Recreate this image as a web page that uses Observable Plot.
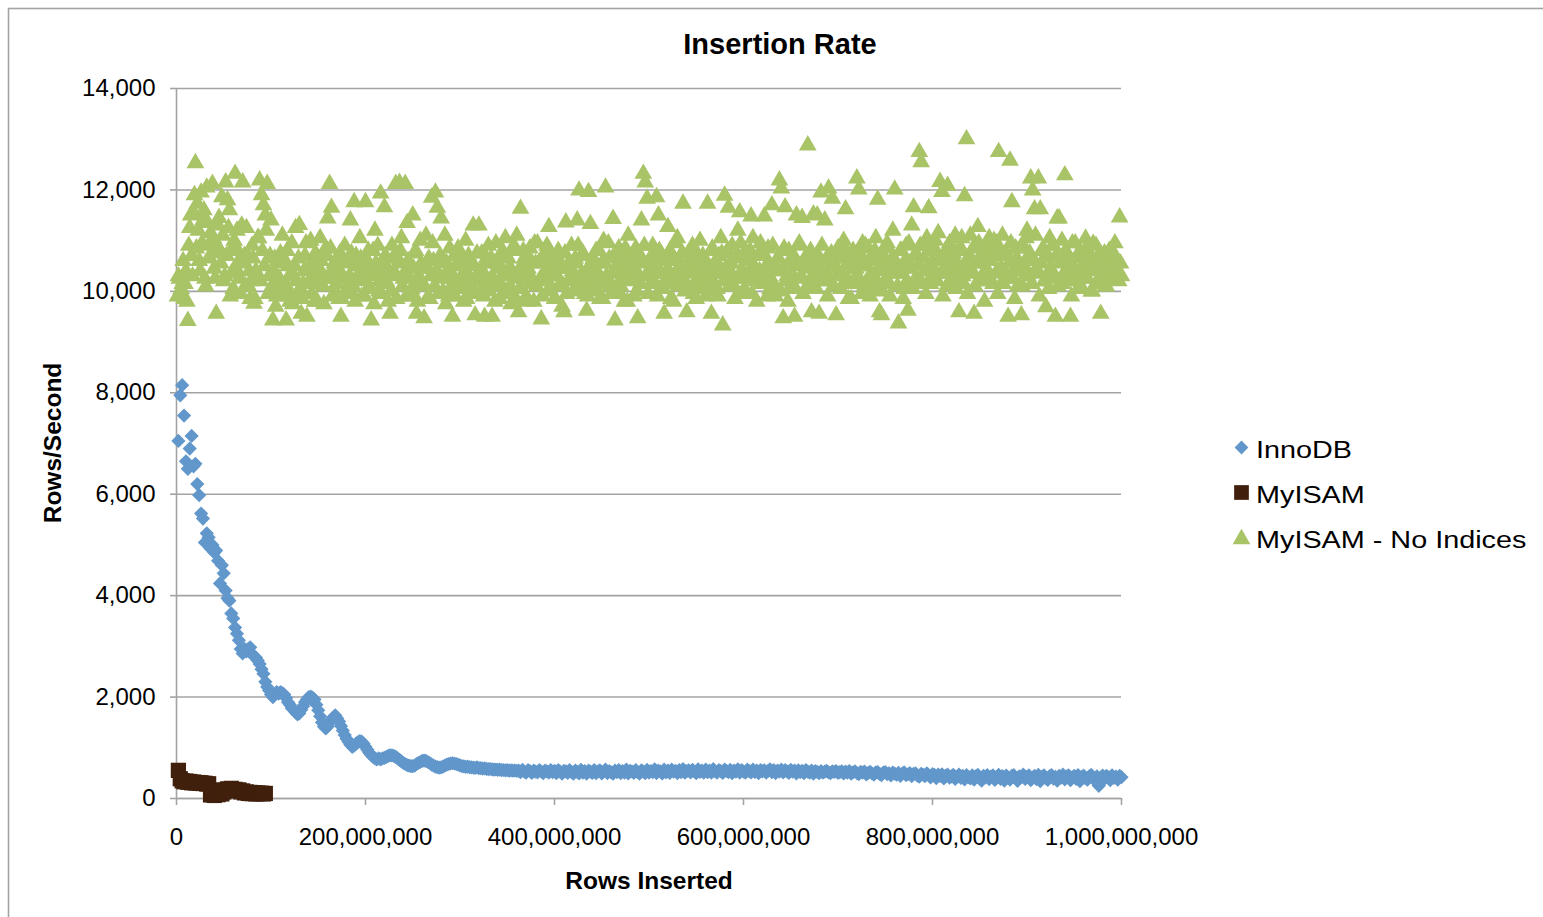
<!DOCTYPE html>
<html>
<head>
<meta charset="utf-8">
<script src="https://cdn.jsdelivr.net/npm/d3@7"></script>
<script src="https://cdn.jsdelivr.net/npm/@observablehq/plot@0.6"></script>
<style>
html, body { margin: 0; padding: 0; background: #fff; }
#chart svg { display: block; }
</style>
</head>
<body>
<div id="chart"></div>
<script>
// ---------- data ----------
const chartTitle = "Insertion Rate";
const xTitle = "Rows Inserted";
const yTitle = "Rows/Second";
const seriesNames = ["InnoDB", "MyISAM", "MyISAM - No Indices"];
const xTicks = [0, 200000000, 400000000, 600000000, 800000000, 1000000000];
const yTicks = [0, 2000, 4000, 6000, 8000, 10000, 12000, 14000];
const rowsPerSample = 2000000; // samples at 2M, 4M, 6M ... rows inserted
const noIndicesOffset = 1000000; // second set of No-Indices samples at 1M, 3M, 5M ...

const innodbRate = [
  7050, 7950, 8150, 7550, 6650, 6500, 6900, 7150, 6550, 6600,
  6200, 5980, 5620, 5520, 5050, 5230, 5150, 4930, 5000, 4850,
  4890, 4690, 4240, 4600, 4440, 4100, 3950, 3900, 3650, 3550,
  3370, 3250, 3120, 2950, 2860, 2950, 2900, 2950, 2980, 2850,
  2800, 2780, 2720, 2650, 2550, 2460, 2300, 2200, 2130, 2050,
  2000, 2060, 2100, 2070, 2100, 2080, 2050, 1980, 1900, 1850,
  1780, 1750, 1700, 1660, 1680, 1750, 1820, 1900, 1950, 2000,
  2010, 1990, 1950, 1850, 1740, 1620, 1500, 1420, 1380, 1420,
  1500, 1560, 1600, 1640, 1580, 1520, 1430, 1340, 1250, 1180,
  1120, 1060, 1020, 1040, 1080, 1110, 1130, 1120, 1080, 1020,
  960, 900, 860, 820, 790, 770, 790, 770, 790, 800,
  820, 840, 850, 850, 840, 820, 790, 760, 730, 700,
  680, 660, 650, 640, 640, 650, 680, 700, 720, 740,
  745, 740, 720, 700, 670, 650, 630, 620, 610, 615,
  630, 650, 670, 680, 690, 695, 690, 680, 670, 655,
  640, 635, 625, 630, 620, 615, 610, 605, 612, 600,
  598, 590, 595, 585, 580, 582, 575, 570, 572, 565,
  568, 560, 562, 555, 558, 550, 553, 548, 552, 545,
  548, 520, 565, 530, 512, 558, 540, 505, 552, 528,
  515, 560, 532, 498, 550, 536, 508, 562, 520, 545,
  500, 558, 528, 492, 547, 535, 503, 560, 518, 488,
  552, 525, 496, 565, 512, 540, 490, 548, 530, 505,
  562, 498, 535, 555, 495, 528, 568, 502, 540, 515,
  490, 550, 522, 560, 500, 538, 512, 570, 495, 545,
  532, 505, 562, 518, 492, 555, 528, 498, 565, 510,
  542, 520, 575, 502, 548, 530, 495, 568, 515, 550,
  505, 572, 528, 545, 498, 560, 522, 580, 508, 540,
  556, 515, 565, 532, 500, 575, 525, 548, 510, 570,
  520, 552, 508, 578, 535, 512, 560, 540, 505, 572,
  545, 518, 565, 500, 550, 530, 575, 512, 558, 528,
  508, 568, 540, 515, 572, 525, 550, 498, 562, 535,
  555, 512, 545, 575, 520, 558, 502, 548, 530, 568,
  515, 560, 535, 505, 565, 528, 550, 495, 555, 520,
  545, 500, 562, 530, 510, 552, 488, 540, 525, 498,
  540, 508, 530, 545, 516, 498, 533, 524, 541, 505,
  522, 537, 495, 529, 512, 540, 488, 518, 534, 502,
  481, 525, 510, 532, 476, 507, 526, 493, 470, 515,
  520, 486, 462, 509, 522, 480, 498, 455, 512, 489,
  468, 505, 448, 490, 515, 461, 478, 500, 442, 484,
  495, 452, 430, 487, 472, 440, 496, 458, 418, 480,
  465, 402, 470, 445, 478, 395, 452, 470, 410, 438,
  466, 385, 430, 472, 405, 448, 375, 460, 420, 395,
  458, 372, 440, 468, 398, 352, 447, 415, 462, 380,
  430, 455, 365, 420, 468, 388, 440, 350, 452, 410,
  372, 445, 462, 395, 348, 438, 420, 470, 385, 428,
  455, 360, 410, 448, 382, 465, 342, 430, 455, 398,
  368, 440, 462, 390, 425, 352, 448, 410, 470, 378,
  435, 458, 360, 415, 446, 385, 462, 340, 428, 450,
  395, 372, 442, 465, 400, 352, 438, 250, 410, 452,
  388, 446, 420, 362, 458, 405, 430, 372, 445, 420
];

const myisamRate = [
  555, 390, 350, 330, 345, 320, 335, 310, 325, 305,
  315, 300, 310, 295, 300, 285, 290, 70, 150, 60,
  120, 75, 170, 90, 130, 160, 190, 170, 200, 160,
  180, 150, 170, 130, 150, 110, 130, 100, 120, 95,
  115, 90, 110, 95, 105, 90, 100
];

// No Indices: samples at 2M, 4M, ... rows
const noIndicesRateEven = [
  10300, 9950, 10150, 9850, 10400, 9420, 11250, 10700, 11550, 12530,
  11730, 10600, 11950, 11400, 10250, 12050, 10900, 11150, 12120, 10450,
  9560, 11300, 10800, 11860, 10200, 12150, 11800, 11600, 10350, 10050,
  12320, 11200, 10600, 9950, 12150, 10700, 11250, 10100, 9850, 10900,
  9760, 10400, 11050, 12190, 11900, 11700, 11500, 12120, 10300, 11400,
  9430, 10650, 9900, 10200, 10750, 11100, 10050, 9430, 10500, 9800,
  10950, 10300, 11250, 9950, 11310, 9560, 10150, 10700, 9500, 10450,
  11000, 10150, 9800, 10600, 10350, 11050, 10250, 9750, 10850, 11440,
  12120, 11650, 10400, 10000, 10650, 9850, 9500, 10300, 10900, 10550,
  10150, 11400, 9950, 11760, 10700, 10250, 11050, 9900, 10450, 11760,
  10600, 10100, 9430, 10800, 11200, 10350, 10000, 11930, 10550, 11660,
  10200, 9800, 9560, 10900, 10400, 12120, 10650, 12140, 11050, 10250,
  12120, 11350, 10500, 9900, 11500, 10750, 9560, 10300, 11000, 10100,
  9470, 11100, 10450, 9850, 11850, 10600, 11950, 11650, 10300, 11440,
  10000, 11100, 10550, 9900, 10250, 9500, 10700, 10150, 10850, 10050,
  10500, 9800, 11000, 10300, 10600, 9950, 11300, 9530, 10750, 11300,
  10400, 10050, 9500, 10650, 10900, 10200, 9500, 10550, 10950, 10100,
  9850, 10700, 10350, 11050, 10000, 10450, 9750, 10800, 10250, 11100,
  9590, 11630, 10300, 10650, 9900, 10450, 10850, 10150, 9800, 10550,
  10950, 10200, 9450, 10700, 10350, 10900, 11270, 10100, 10600, 9850,
  10450, 10800, 10150, 9700, 9590, 11360, 10500, 10250, 10900, 10000,
  10650, 11400, 11990, 10300, 10750, 9950, 9620, 11960, 11330, 10450,
  10100, 10800, 10300, 9850, 10550, 11000, 12050, 10250, 10650, 9950,
  11430, 9430, 10500, 10850, 10100, 10400, 9800, 10700, 11100, 10250,
  10550, 9900, 10850, 9470, 10300, 11400, 12320, 12150, 11830, 10600,
  10150, 10900, 10400, 11860, 11500, 10050, 10700, 9560, 10350, 11270,
  10800, 10150, 9800, 10600, 11050, 10300, 10550, 11730, 10000, 9590,
  10750, 10400, 10900, 10150, 9850, 10650, 11000, 10300, 10500, 9900,
  11730, 10200, 9560, 10800, 10450, 10050, 10700, 11050, 9330, 11890,
  10350, 11650, 10550, 10900, 10100, 10650, 11200, 11560, 10400, 9950,
  10800, 10250, 10600, 11480, 11050, 10350, 9800, 10700, 10950, 10200,
  11480, 10500, 10850, 10050, 11700, 10400, 9900, 10650, 12190, 12030,
  9470, 11660, 10300, 10800, 10100, 10550, 9500, 11500, 10900, 10250,
  11450, 10600, 10050, 12880, 10700, 9590, 11520, 10400, 11500, 9560,
  11950, 10350, 11400, 10650, 12030, 10200, 11830, 10500, 9530, 10850,
  10300, 10650, 11000, 11620, 10150, 10450, 9850, 10800, 10250, 12230,
  12010, 10600, 10950, 10100, 10500, 10850, 9900, 10650, 10300, 11050,
  11810, 9590, 9530, 10700, 10400, 10950, 10150, 10600, 11200, 12010,
  10350, 9370, 10800, 10450, 10050, 10900, 9620, 10550, 11300, 11660,
  10250, 10700, 12750, 12550, 10900, 10400, 11050, 11640, 10150, 10600,
  10850, 10350, 11150, 12160, 11960, 10700, 10400, 12080, 10950, 10200,
  10750, 11100, 10500, 9590, 10850, 10300, 11880, 13000, 10650, 11100,
  10400, 9560, 10900, 11270, 10550, 10200, 10800, 10350, 10900, 11050,
  10600, 10150, 10700, 10950, 12750, 10450, 11100, 10250, 10750, 9500,
  12580, 11760, 10400, 10850, 10100, 10550, 9530, 10900, 10300, 11200,
  10650, 12230, 11990, 11620, 10450, 12230, 11620, 10800, 10200, 9690,
  10700, 11050, 10350, 10900, 9500, 11440, 11440, 10600, 10150, 12290,
  10750, 10400, 9500, 10950, 10200, 10650, 10050, 10800, 10350, 10550,
  11040, 10250, 10700, 10000, 10940, 10450, 10150, 10600, 9560, 10300,
  10750, 10100, 10550, 10250, 10800, 10700, 10350, 10600, 11460, 10300
];

// No Indices: samples at 1M, 3M, ... rows
const noIndicesRateOdd = [
  9900, 10250, 10050, 10600, 10150, 9800, 10900, 11500, 10300, 11900,
  10850, 11200, 10400, 10950, 11600, 10100, 11350, 10650, 10750, 11050,
  10250, 10900, 11450, 10550, 11100, 10300, 10700, 11250, 9900, 10850,
  11000, 10450, 10800, 10250, 11300, 10550, 10100, 10700, 10400, 10200,
  10650, 9850, 10350, 11050, 10200, 10800, 10500, 11200, 9950, 10700,
  10100, 10400, 9700, 10600, 10250, 9900, 10550, 10150, 10800, 10000,
  10350, 9750, 10500, 10200, 10650, 10050, 9850, 10400, 10950, 10150,
  10500, 9950, 10300, 10750, 9800, 10450, 10600, 10100, 10250, 10700,
  10300, 10850, 9900, 10550, 10150, 10400, 10750, 9850, 10250, 10000,
  10600, 10300, 10750, 10100, 9800, 10500, 10350, 10650, 10200, 9900,
  10400, 10800, 10050, 10300, 9750, 10550, 10900, 10200, 9950, 10450,
  10700, 10150, 10400, 10000, 10650, 10300, 9850, 10550, 10800, 10100,
  10350, 9900, 10600, 10250, 10050, 10450, 10800, 9800, 10200, 10550,
  10150, 10450, 9850, 10650, 10300, 10950, 10100, 10400, 9950, 10700,
  10250, 10600, 9750, 10400, 10850, 10100, 10300, 9900, 10550, 10200,
  10650, 10150, 10400, 9850, 10700, 10250, 10050, 10500, 9950, 10350,
  10200, 10750, 9900, 10300, 10550, 10000, 10650, 10250, 9800, 10450,
  10550, 10150, 10800, 9950, 10300, 10650, 10100, 10400, 10900, 9850,
  10300, 10050, 10500, 10800, 10200, 9800, 10350, 10600, 10150, 10950,
  10100, 10550, 10250, 9900, 10650, 10400, 10000, 10750, 10300, 10500,
  9850, 10300, 10600, 10450, 10100, 10750, 9950, 10550, 10250, 10400,
  10200, 10550, 10900, 10050, 10350, 10700, 10150, 9900, 10500, 10250,
  10650, 10000, 10400, 10800, 10150, 9850, 10550, 10300, 10950, 10100,
  10350, 10700, 10050, 9950, 10600, 10250, 10450, 10850, 9800, 10500,
  10200, 10650, 10350, 10000, 10750, 10150, 10550, 10900, 10300, 9950,
  10450, 10700, 10200, 10550, 9900, 10800, 10350, 10050, 10600, 10250,
  10400, 9850, 10650, 10300, 10950, 10100, 10500, 10750, 10200, 10450,
  10100, 10600, 10350, 9950, 10800, 10250, 10500, 10050, 10700, 10300,
  10550, 10000, 10400, 10850, 10150, 10600, 9900, 10350, 10750, 10200,
  10450, 10800, 10100, 10550, 10300, 9850, 10700, 10250, 10950, 10400,
  10050, 10600, 10350, 10800, 9950, 10500, 10200, 10700, 10400, 10150,
  10750, 10300, 9900, 10550, 10250, 10900, 10100, 10450, 10650, 10000,
  10400, 10850, 10200, 9800, 10600, 10350, 10700, 10050, 10500, 10950,
  10300, 9950, 10650, 10450, 10150, 10800, 10250, 10550, 10050, 10700,
  10350, 10900, 10200, 10600, 9900, 10450, 10750, 10100, 10500, 10300,
  10650, 10050, 10400, 10850, 10250, 9850, 10550, 10700, 10150, 10450,
  10300, 10750, 9950, 10500, 10900, 10200, 10600, 10350, 10050, 10800,
  10150, 10450, 10700, 10000, 10550, 10250, 10850, 9900, 10400, 10650,
  10550, 10100, 10350, 10800, 9850, 10600, 10200, 10950, 10450, 10050,
  10700, 10250, 10500, 10900, 10150, 10650, 9950, 10400, 10800, 10300,
  10450, 11000, 10200, 10600, 10350, 9900, 10750, 10100, 10550, 10900,
  10250, 10650, 10050, 10800, 10400, 11050, 10150, 10500, 9950, 10700,
  10350, 10850, 10100, 10550, 10950, 10250, 10650, 9800, 10450, 10750,
  10200, 10600, 11000, 10350, 9950, 10800, 10450, 10150, 10700, 10300,
  10550, 10950, 10250, 9850, 10650, 10400, 10850, 10100, 10500, 11050,
  10300, 10750, 10150, 10600, 11100, 10350, 9900, 10550, 10850, 10200,
  10650, 10050, 10450, 10900, 10250, 10700, 10100, 10550, 11000, 10350,
  10800, 10200, 10600, 9900, 10450, 10950, 10300, 10700, 10100, 10500,
  10250, 10850, 10400, 10650, 10000, 10550, 10900, 10200, 10750, 10350,
  10600, 10100, 10450, 10800, 10300, 10650, 10950, 10400, 10200, 10550
];

// ---------- styles ----------
const colors = ["#6197cb", "#40200c", "#a8c466"];
const symbols = ["diamond2", "square", "triangle"];
const radii = [6.4, 8.6, 6.6];
const gridColor = "#a3a3a3";
const fontFamily = "'Liberation Sans', Arial, Helvetica, sans-serif";
const fmt = d3.format(",");

const toPoints = (values, name, offset = 0) =>
  values.map((v, i) => ({ series: name, rows: (i + 1) * rowsPerSample - offset, rate: v }));
const noIndicesPoints = toPoints(noIndicesRateEven, seriesNames[2])
  .concat(toPoints(noIndicesRateOdd, seriesNames[2], noIndicesOffset))
  .sort((a, b) => a.rows - b.rows);
const seriesData = [
  toPoints(innodbRate, seriesNames[0]),
  toPoints(myisamRate, seriesNames[1]),
  noIndicesPoints
];

const W = 1543, H = 917;
const plot = Plot.plot({
  width: W,
  height: H,
  marginLeft: 176,
  marginRight: 422,
  marginTop: 88,
  marginBottom: 119,
  style: { fontFamily, background: "#fff", color: "#000", overflow: "visible" },
  x: { domain: [0, 1000000000], label: null },
  y: { domain: [0, 14000], label: null },
  marks: [
    Plot.gridY(yTicks, { stroke: gridColor, strokeOpacity: 1, strokeWidth: 1.6 }),
    Plot.ruleX([0], { stroke: gridColor, strokeWidth: 1.6 }),
    Plot.ruleY([0], { stroke: gridColor, strokeWidth: 1.6 }),
    Plot.axisY({ ticks: yTicks, tickFormat: fmt, tickSize: 6, tickPadding: 15, fontSize: 24,
                 stroke: gridColor, strokeWidth: 1.6, fill: "#000", label: null }),
    Plot.axisX({ ticks: xTicks, tickFormat: fmt, tickSize: 7, tickPadding: 22, fontSize: 24,
                 stroke: gridColor, strokeWidth: 1.6, fill: "#000", label: null }),
    ...seriesData.map((d, k) =>
      Plot.dot(d, { x: "rows", y: "rate", symbol: symbols[k], r: radii[k], fill: colors[k], stroke: "none" })
    )
  ]
});
document.getElementById("chart").appendChild(plot);

// ---------- decorations: border, titles, legend ----------
const svg = d3.select(plot);
svg.insert("rect", ":first-child")
  .attr("x", 8.5).attr("y", 8.5).attr("width", W).attr("height", H)
  .attr("fill", "none").attr("stroke", gridColor).attr("stroke-width", 1.6);

svg.append("text")
  .attr("x", 780).attr("y", 53.5).attr("text-anchor", "middle")
  .attr("font-size", 29).attr("font-weight", "bold").attr("fill", "#000")
  .text(chartTitle);

svg.append("text")
  .attr("x", 649).attr("y", 889).attr("text-anchor", "middle")
  .attr("font-size", 24.5).attr("font-weight", "bold").attr("fill", "#000")
  .text(xTitle);

svg.append("text")
  .attr("transform", "translate(60.5,443) rotate(-90)").attr("text-anchor", "middle")
  .attr("font-size", 24.5).attr("font-weight", "bold").attr("fill", "#000")
  .text(yTitle);

const legendSymbols = [d3.symbolDiamond2, d3.symbolSquare, d3.symbolTriangle];
const legendRadii = [6.2, 8.3, 6.6];
const legendRows = [447.5, 492.5, 539];
const legendBaselines = [457.5, 502.5, 548];
seriesNames.forEach((name, k) => {
  svg.append("path")
    .attr("transform", `translate(1241.5,${legendRows[k]})`)
    .attr("d", d3.symbol(legendSymbols[k], legendRadii[k] * legendRadii[k] * Math.PI)())
    .attr("fill", colors[k]);
  svg.append("text")
    .attr("transform", `translate(1256,${legendBaselines[k]}) scale(1.2,1)`)
    .attr("text-anchor", "start")
    .attr("font-size", 24).attr("fill", "#000")
    .text(name);
});
</script>
</body>
</html>
